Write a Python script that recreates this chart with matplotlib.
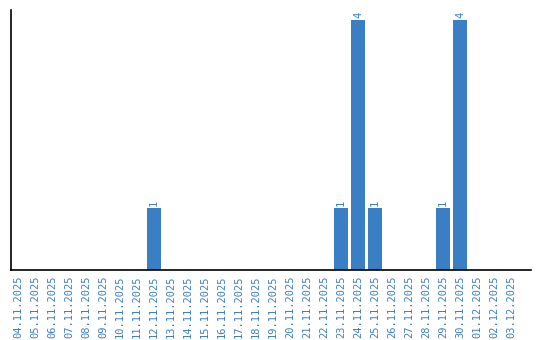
import matplotlib
matplotlib.use("Agg")
import matplotlib.pyplot as plt
import numpy as np

dates = ["04.11.2025", "05.11.2025", "06.11.2025", "07.11.2025", "08.11.2025",
         "09.11.2025", "10.11.2025", "11.11.2025", "12.11.2025", "13.11.2025",
         "14.11.2025", "15.11.2025", "16.11.2025", "17.11.2025", "18.11.2025",
         "19.11.2025", "20.11.2025", "21.11.2025", "22.11.2025", "23.11.2025",
         "24.11.2025", "25.11.2025", "26.11.2025", "27.11.2025", "28.11.2025",
         "29.11.2025", "30.11.2025", "01.12.2025", "02.12.2025", "03.12.2025"]
counts = [0, 0, 0, 0, 0, 0, 0, 0, 1, 0,
          0, 0, 0, 0, 0, 0, 0, 0, 0, 1,
          4, 1, 0, 0, 0, 1, 4, 0, 0, 0]

blue = "#3a7ec3"
mono = "DejaVu Sans Mono"

fig = plt.figure(figsize=(5.4, 3.4), dpi=100)
ax = fig.add_axes([11 / 540, 70 / 340, 520 / 540, 260 / 340])

x = np.arange(len(dates))
ax.bar(x, counts, width=0.82, color=blue)
for xi, v in zip(x, counts):
    if v > 0:
        ax.text(xi, v + 0.03, str(v), rotation=90, ha="center", va="bottom",
                color=blue, fontsize=7.5, family=mono)

ax.set_xlim(-0.41, 30.18)
ax.set_ylim(0, 4.16)
ax.set_xticks(x)
ax.set_xticklabels(dates, rotation=90, color=blue, fontsize=7.5, family=mono)
ax.tick_params(axis="x", length=0, pad=4)
ax.set_yticks([])
for side in ["top", "right"]:
    ax.spines[side].set_visible(False)
for side in ["left", "bottom"]:
    ax.spines[side].set_color("black")
    ax.spines[side].set_linewidth(1.2)

fig.savefig("out.png", dpi=100)
